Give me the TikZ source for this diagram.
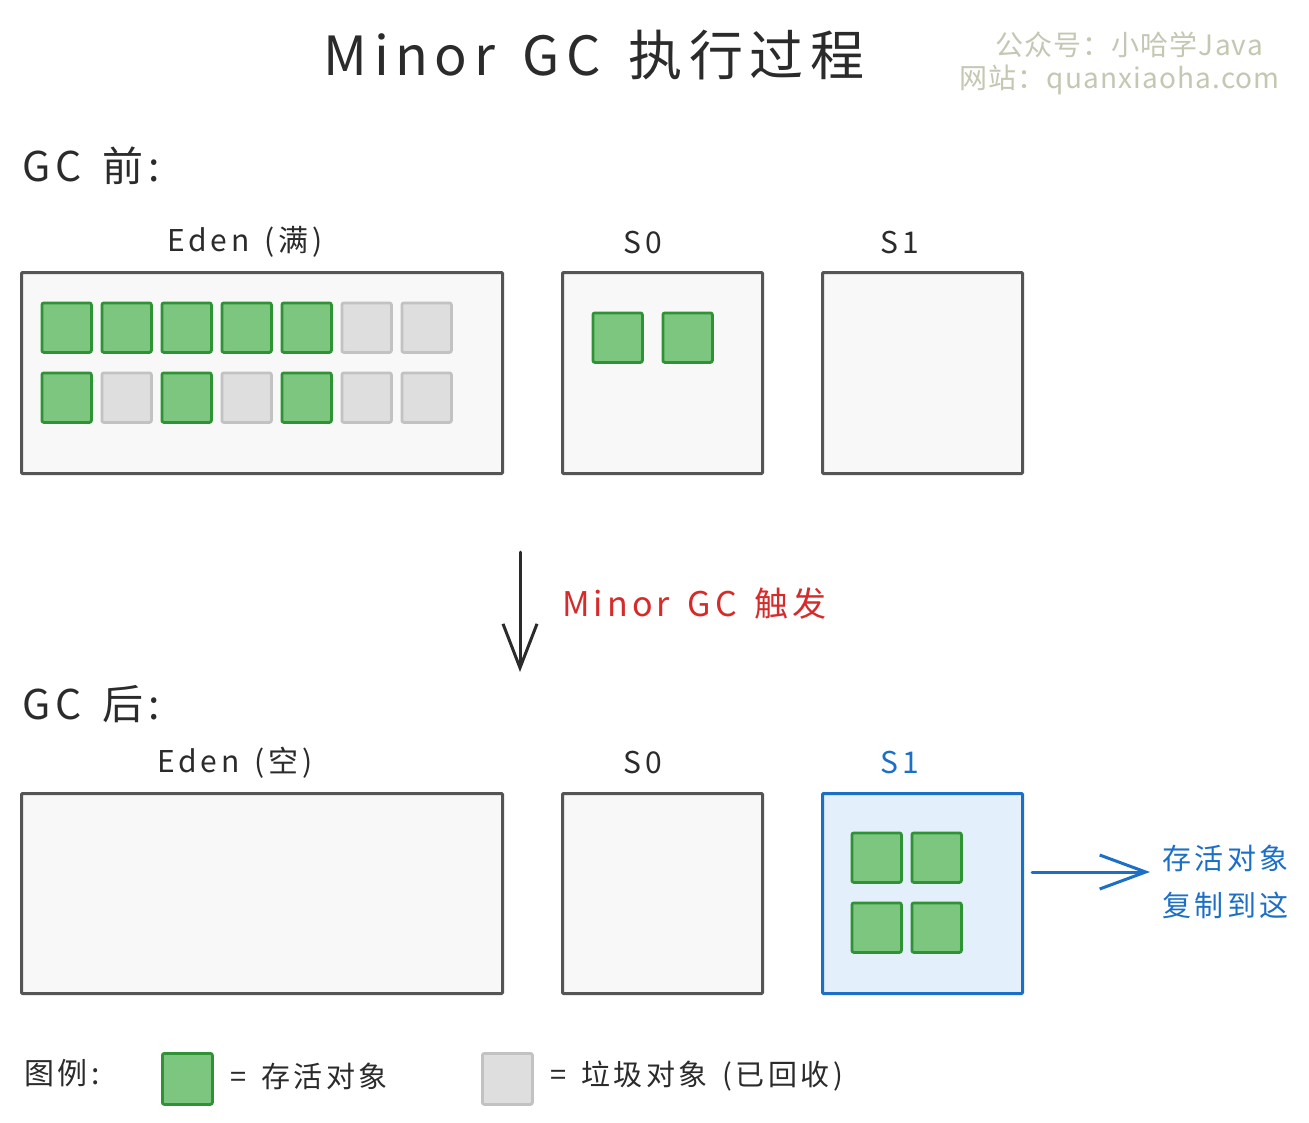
\documentclass[tikz,border=0pt]{standalone}
\usepackage{fontspec}
\setmainfont[LetterSpace=12,WordSpace=1.5]{Noto Sans CJK SC}
\newfontfamily\wm[LetterSpace=4]{Noto Sans CJK SC}
\usetikzlibrary{arrows.meta}
\definecolor{ink}{HTML}{2B2B2B}
\definecolor{boxline}{HTML}{555555}
\definecolor{boxfill}{HTML}{F8F8F8}
\definecolor{livefill}{HTML}{7DC67F}
\definecolor{liveline}{HTML}{2F9234}
\definecolor{deadfill}{HTML}{DEDEDE}
\definecolor{deadline}{HTML}{C2C2C2}
\definecolor{bluel}{HTML}{1C6FC6}
\definecolor{bluefill}{HTML}{E3EFFB}
\definecolor{redt}{HTML}{D62B2B}
\definecolor{wmcol}{HTML}{C4C7B2}
\tikzset{
  region/.style={draw=boxline, fill=boxfill, line width=3pt, anchor=north west, inner sep=0pt, rounded corners=1pt},
  obj/.style={line width=2.8pt, anchor=north west, inner sep=0pt, minimum size=49.5pt, rounded corners=2pt},
  live/.style={obj, draw=liveline, fill=livefill},
  dead/.style={obj, draw=deadline, fill=deadfill},
  lbl/.style={text=ink, font=\fontsize{30}{34}\selectfont, inner sep=0pt},
  head/.style={text=ink, font=\fontsize{41}{46}\selectfont, inner sep=0pt, anchor=west},
}
\begin{document}
\begin{tikzpicture}[x=1pt,y=-1pt]
\useasboundingbox[fill=white] (0,0) rectangle (1309,1122);
% title and watermark
\node[text=ink, font=\fontsize{54}{60}\selectfont, inner sep=0pt] (title) at (594,55) {Minor GC 执行过程};
\node[text=wmcol, font=\wm\fontsize{28}{32}\selectfont, inner sep=0pt, anchor=east] (wm1) at (1263,45) {公众号：小哈学Java};
\node[text=wmcol, font=\wm\fontsize{28}{32}\selectfont, inner sep=0pt, anchor=east] (wm2) at (1280,80) {网站：quanxiaoha.com};
% ---------- before ----------
\node[head] (before) at (22,166) {GC 前:};
\node[lbl] (edenAl) at (245,242) {Eden (满)};
\node[lbl] (s0Al) at (643,242) {S0};
\node[lbl] (s1Al) at (900,242) {S1};
\node[region, minimum width=481pt, minimum height=201pt] (edenA) at (20,271) {};
\node[region, minimum width=200pt, minimum height=201pt] (s0A) at (561,271) {};
\node[region, minimum width=200pt, minimum height=201pt] (s1A) at (821,271) {};
% eden objects row 1
\node[live] (e11) at (40.5,301.5) {};
\node[live] (e12) at (100.5,301.5) {};
\node[live] (e13) at (160.5,301.5) {};
\node[live] (e14) at (220.5,301.5) {};
\node[live] (e15) at (280.5,301.5) {};
\node[dead] (e16) at (340.5,301.5) {};
\node[dead] (e17) at (400.5,301.5) {};
% eden objects row 2
\node[live] (e21) at (40.5,371.5) {};
\node[dead] (e22) at (100.5,371.5) {};
\node[live] (e23) at (160.5,371.5) {};
\node[dead] (e24) at (220.5,371.5) {};
\node[live] (e25) at (280.5,371.5) {};
\node[dead] (e26) at (340.5,371.5) {};
\node[dead] (e27) at (400.5,371.5) {};
% s0 objects
\node[live] (s01) at (591.5,311.5) {};
\node[live] (s02) at (661.5,311.5) {};
% ---------- trigger ----------
\coordinate (trigA) at (520,552);
\coordinate (trigB) at (520,672);
\draw[draw=ink, line width=3pt, line cap=round, -{Straight Barb[length=44pt, width=34pt, line width=3pt]}] (trigA) -- (trigB);
\node[text=redt, font=\fontsize{34}{40}\selectfont, inner sep=0pt, anchor=west] (trig) at (562,604) {Minor GC 触发};
% ---------- after ----------
\node[head] (after) at (22,704) {GC 后:};
\node[lbl] (edenBl) at (235,763) {Eden (空)};
\node[lbl] (s0Bl) at (643,762) {S0};
\node[lbl, text=bluel] (s1Bl) at (900,762) {S1};
\node[region, minimum width=481pt, minimum height=200pt] (edenB) at (20,792) {};
\node[region, minimum width=200pt, minimum height=200pt] (s0B) at (561,792) {};
\node[region, draw=bluel, fill=bluefill, minimum width=200pt, minimum height=200pt] (s1B) at (821,792) {};
\node[live] (s11) at (850.5,831.5) {};
\node[live] (s12) at (910.5,831.5) {};
\node[live] (s13) at (850.5,901.5) {};
\node[live] (s14) at (910.5,901.5) {};
\node[text=bluel, font=\fontsize{29}{47}\selectfont, inner sep=0pt, anchor=west, align=left] (copy) at (1162,882) {存活对象\\复制到这};
\coordinate (cpA) at (1032,872);
\coordinate (cpB) at (1150,872);
\draw[draw=bluel, line width=3pt, line cap=round, -{Straight Barb[length=46pt, width=34pt, line width=3pt]}] (cpA) -- (cpB);
% ---------- legend ----------
\node[lbl, anchor=west] (legend) at (24,1073) {图例:};
\node[live, minimum width=50pt, minimum height=51pt] (lgLive) at (161,1052) {};
\node[lbl, anchor=west, font=\fontsize{29}{34}\selectfont] (lgLiveT) at (230,1076) {= 存活对象};
\node[dead, minimum width=50pt, minimum height=51pt] (lgDead) at (481,1052) {};
\node[lbl, anchor=west, font=\fontsize{29}{34}\selectfont] (lgDeadT) at (550,1076) {= 垃圾对象 (已回收)};
\end{tikzpicture}
\end{document}
